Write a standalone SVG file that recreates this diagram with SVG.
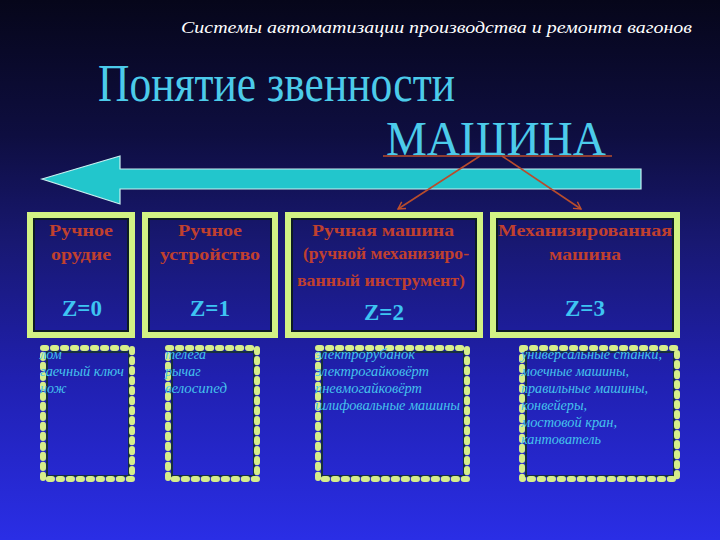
<svg xmlns="http://www.w3.org/2000/svg" width="720" height="540" viewBox="0 0 720 540">
<defs>
<linearGradient id="bg" x1="0" y1="0" x2="0" y2="1">
<stop offset="0" stop-color="#06061a"/>
<stop offset="0.25" stop-color="#0e0e40"/>
<stop offset="0.45" stop-color="#181872"/>
<stop offset="0.7" stop-color="#2020b0"/>
<stop offset="1" stop-color="#2a2ee6"/>
</linearGradient>
<marker id="ah" markerWidth="10" markerHeight="10" refX="8" refY="5" orient="auto" markerUnits="userSpaceOnUse">
<path d="M1,1 L8,5 L1,9" fill="none" stroke="#c0502c" stroke-width="1.4"/>
</marker>
<style>
.hdr{font-family:"Liberation Serif","DejaVu Serif",serif;font-style:italic;font-size:17px;fill:#ffffff}
.ttl{font-family:"Liberation Serif","DejaVu Serif",serif;fill:#4ccbea}
.box{fill:none;stroke:#d2f284;stroke-width:6}
.inner{fill:none;stroke:#0c1c24;stroke-width:2}
.lbl{font-family:"Liberation Serif","DejaVu Serif",serif;font-weight:bold;font-size:17.5px;fill:#c0402e;text-anchor:middle}
.z{font-family:"Liberation Serif","DejaVu Serif",serif;font-weight:bold;font-size:23px;fill:#3ec4f2;text-anchor:middle}
.dash{fill:none;stroke:#d6ee8a;stroke-width:6;stroke-dasharray:3.2 6.8;stroke-linecap:round;stroke-linejoin:round}
.dsh{fill:none;stroke:#163040;stroke-width:2}
.ex{font-family:"Liberation Serif","DejaVu Serif",serif;font-style:italic;font-size:14px;fill:#45c2ec}
.con{stroke:#b84c2c;stroke-width:1.6;fill:none}
</style>
</defs>
<rect x="0" y="0" width="720" height="540" fill="url(#bg)"/>

<text class="hdr" x="692" y="33" text-anchor="end" textLength="511" lengthAdjust="spacingAndGlyphs">Системы автоматизации производства и ремонта вагонов</text>
<text class="ttl" x="98" y="101" font-size="52" textLength="357" lengthAdjust="spacingAndGlyphs">Понятие звенности</text>
<text class="ttl" x="386" y="155" font-size="48" textLength="220" lengthAdjust="spacingAndGlyphs">МАШИНА</text>

<path id="bigArrow" d="M42,179 L120,156 L120,169 L641,169 L641,189 L120,189 L120,204 Z" fill="#22c6cc" stroke="#c8f0f0" stroke-width="1.2" stroke-linejoin="miter"/>

<g id="connectors">
<line class="con" x1="383" y1="156" x2="612" y2="156"/>
<line class="con" x1="480" y1="156" x2="398" y2="209" marker-end="url(#ah)"/>
<line class="con" x1="502" y1="156" x2="581" y2="209" marker-end="url(#ah)"/>
</g>

<g id="node-z0">
<rect class="box" x="30" y="215" width="102" height="120"/>
<rect class="inner" x="34" y="219" width="94" height="112"/>
<text class="lbl" x="81" y="236" textLength="64" lengthAdjust="spacingAndGlyphs">Ручное</text>
<text class="lbl" x="81" y="260" textLength="60" lengthAdjust="spacingAndGlyphs">орудие</text>
<text class="z" x="82" y="316">Z=0</text>
</g>
<g id="node-z1">
<rect class="box" x="145" y="215" width="130" height="120"/>
<rect class="inner" x="149" y="219" width="122" height="112"/>
<text class="lbl" x="210" y="236" textLength="64" lengthAdjust="spacingAndGlyphs">Ручное</text>
<text class="lbl" x="210" y="260" textLength="100" lengthAdjust="spacingAndGlyphs">устройство</text>
<text class="z" x="210" y="316">Z=1</text>
</g>
<g id="node-z2">
<rect class="box" x="288" y="215" width="192" height="120"/>
<rect class="inner" x="292" y="219" width="184" height="112"/>
<text class="lbl" x="383" y="236" textLength="142" lengthAdjust="spacingAndGlyphs">Ручная машина</text>
<text class="lbl" x="386" y="259" font-size="16" textLength="166" lengthAdjust="spacingAndGlyphs">(ручной механизиро-</text>
<text class="lbl" x="381" y="286" font-size="16" textLength="168" lengthAdjust="spacingAndGlyphs">ванный инструмент)</text>
<text class="z" x="384" y="320">Z=2</text>
</g>
<g id="node-z3">
<rect class="box" x="493" y="215" width="184" height="120"/>
<rect class="inner" x="497" y="219" width="176" height="112"/>
<text class="lbl" x="585" y="236" textLength="174" lengthAdjust="spacingAndGlyphs">Механизированная</text>
<text class="lbl" x="585" y="260" textLength="72" lengthAdjust="spacingAndGlyphs">машина</text>
<text class="z" x="585" y="316">Z=3</text>
</g>

<g id="examples-z0">
<rect class="dsh" x="47" y="352" width="82" height="124"/>
<rect class="dash" x="43" y="348" width="89" height="131"/>
<text class="ex" x="40" y="359">лом</text>
<text class="ex" x="40" y="376" textLength="84" lengthAdjust="spacingAndGlyphs">гаечный ключ</text>
<text class="ex" x="40" y="393">нож</text>
</g>
<g id="examples-z1">
<rect class="dsh" x="172" y="352" width="82" height="124"/>
<rect class="dash" x="168" y="348" width="89" height="131"/>
<text class="ex" x="165" y="359">телега</text>
<text class="ex" x="165" y="376">рычаг</text>
<text class="ex" x="165" y="393" textLength="62" lengthAdjust="spacingAndGlyphs">велосипед</text>
</g>
<g id="examples-z2">
<rect class="dsh" x="322" y="352" width="142" height="124"/>
<rect class="dash" x="318" y="348" width="149" height="131"/>
<text class="ex" x="315" y="359" textLength="100" lengthAdjust="spacingAndGlyphs">электрорубанок</text>
<text class="ex" x="315" y="376" textLength="114" lengthAdjust="spacingAndGlyphs">электрогайковёрт</text>
<text class="ex" x="315" y="393" textLength="107" lengthAdjust="spacingAndGlyphs">пневмогайковёрт</text>
<text class="ex" x="315" y="410" textLength="145" lengthAdjust="spacingAndGlyphs">шлифовальные машины</text>
</g>
<g id="examples-z3">
<rect class="dsh" x="526" y="352" width="148" height="124"/>
<rect class="dash" x="522" y="348" width="155" height="131"/>
<text class="ex" x="521" y="359" textLength="141" lengthAdjust="spacingAndGlyphs">универсальные станки,</text>
<text class="ex" x="521" y="376" textLength="108" lengthAdjust="spacingAndGlyphs">моечные машины,</text>
<text class="ex" x="521" y="393" textLength="127" lengthAdjust="spacingAndGlyphs">правильные машины,</text>
<text class="ex" x="521" y="410" textLength="66" lengthAdjust="spacingAndGlyphs">конвейеры,</text>
<text class="ex" x="521" y="427" textLength="96" lengthAdjust="spacingAndGlyphs">мостовой кран,</text>
<text class="ex" x="521" y="444" textLength="80" lengthAdjust="spacingAndGlyphs">кантователь</text>
</g>
</svg>
